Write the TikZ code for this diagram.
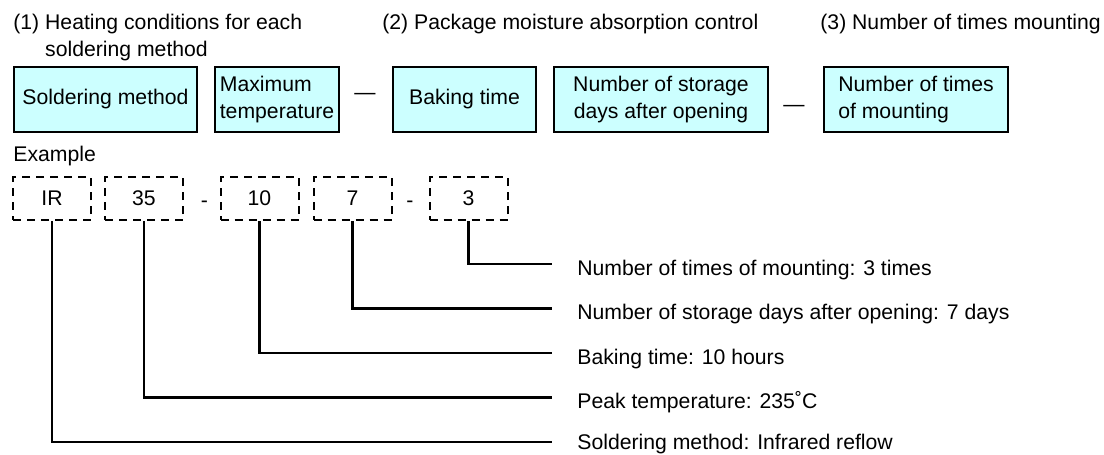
\documentclass[tikz,border=0pt]{standalone}
\usepackage{fontspec}
\setmainfont{Liberation Sans}
\usepackage{xcolor}
\usepackage{tikz}
\usetikzlibrary{positioning, calc}
\definecolor{MarkCyan}{RGB}{204, 255, 255}

\begin{document}
\begin{tikzpicture}[x=0.5pt, y=-0.5pt,
  every node/.style={font=\fontsize{10.6}{13.3}\selectfont, inner sep=0pt},
  fieldbox/.style={draw=black, line width=1pt, fill=MarkCyan, minimum height=32.5pt},
  samplebox/.style={draw=black, line width=1pt, dash pattern=on 4pt off 3pt,
    minimum width=39pt, minimum height=21.5pt},
  leader/.style={line width=1.1pt},
  joinmark/.style={anchor=base}]
  \useasboundingbox (0,0) rectangle (1104,455);

  % headings
  \node[anchor=north west, align=left] (headheat) at (13,14)
    {(1) Heating conditions for each\\\phantom{(1) }soldering method};
  \node[anchor=north west] (headmoist) at (382,14) {(2) Package moisture absorption control};
  \node[anchor=north west] (headmount) at (820,14) {(3) Number of times mounting};

  % code fields
  \node[fieldbox, minimum width=91.5pt, anchor=west] (fsolder) at (13,99.5) {Soldering method};
  \node[fieldbox, minimum width=62pt, anchor=west, align=left] (ftemp) at (214,99.5) {Maximum\\temperature};
  \node[joinmark] (dashA) at (365,99) {—};
  \node[fieldbox, minimum width=71.5pt, anchor=west] (fbake) at (392,99.5) {Baking time};
  \node[fieldbox, minimum width=107pt, anchor=west, align=center] (fdays) at (553,99.5) {Number of storage\\days after opening};
  \node[joinmark] (dashB) at (794,111) {—};
  \node[fieldbox, minimum width=92pt, anchor=west, align=left] (fmount) at (823,99.5) {Number of times\\of mounting};

  % example
  \node[anchor=base west] (example) at (13,161) {Example};
  \node[samplebox] (sir) at (52,198.5) {IR};
  \node[samplebox] (stemp) at (144,198.5) {35};
  \node[joinmark] (hyA) at (204.5,207) {-};
  \node[samplebox] (sbake) at (259.5,198.5) {10};
  \node[samplebox] (sdays) at (352.5,198.5) {7};
  \node[joinmark] (hyB) at (410,207) {-};
  \node[samplebox] (smount) at (468.5,198.5) {3};

  % explanations
  \node[anchor=base west] (lmount) at (577,275) {Number of times of mounting: 3 times};
  \node[anchor=base west] (ldays) at (577,319.5) {Number of storage days after opening: 7 days};
  \node[anchor=base west] (lbake) at (577,364) {Baking time: 10 hours};
  \node[anchor=base west] (ltemp) at (577,408.5) {Peak temperature: 235˚C};
  \node[anchor=base west] (lsolder) at (577,449.5) {Soldering method: Infrared reflow};

  \coordinate (emount) at (552,264);
  \coordinate (edays) at (552,308.5);
  \coordinate (ebake) at (552,353);
  \coordinate (etemp) at (552,397.5);
  \coordinate (esolder) at (552,442);

  \draw[leader] (smount.south) |- (emount);
  \draw[leader] (sdays.south) |- (edays);
  \draw[leader] (sbake.south) |- (ebake);
  \draw[leader] (stemp.south) |- (etemp);
  \draw[leader] (sir.south) |- (esolder);
\end{tikzpicture}
\end{document}
